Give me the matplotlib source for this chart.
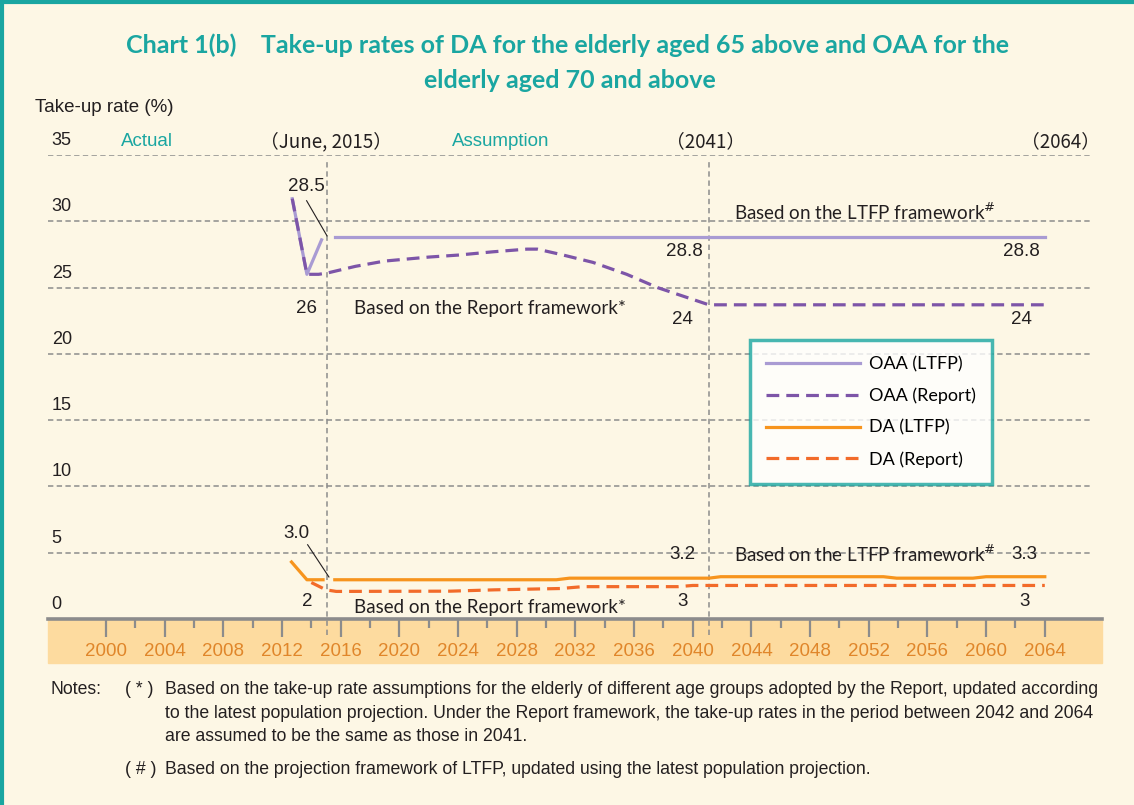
import matplotlib
matplotlib.use("Agg")
import matplotlib.pyplot as plt
import matplotlib.ticker as ticker
from matplotlib.patches import Rectangle
from matplotlib.lines import Line2D

# ---- data ----
oaa_ltfp_actual_x = [2012.7, 2013.7, 2014.7]
oaa_ltfp_actual_y = [31.7, 26.0, 28.6]
oaa_ltfp_x = [2015.6, 2064.0]
oaa_ltfp_y = [28.8, 28.8]

oaa_report_x = [2012.7, 2013.7, 2014.5, 2015.1, 2017.0, 2019.0, 2022.0, 2024.0, 2026.4,
                2028.7, 2029.4, 2031.0, 2033.2, 2035.5, 2037.6, 2041.1, 2064.0]
oaa_report_y = [31.7, 26.0, 26.0, 26.1, 26.6, 27.0, 27.3, 27.45, 27.7,
                27.9, 27.9, 27.5, 26.9, 26.0, 25.0, 23.7, 23.7]

da_ltfp_actual_x = [2012.65, 2013.7, 2014.8]
da_ltfp_actual_y = [4.3, 2.96, 2.96]
da_ltfp_x = [2015.6, 2030.7, 2031.6, 2041.1, 2041.9, 2053.0, 2053.9, 2059.1, 2060.0, 2064.0]
da_ltfp_y = [2.96, 2.96, 3.08, 3.08, 3.19, 3.19, 3.08, 3.08, 3.19, 3.19]

da_report_x = [2014.0, 2015.0, 2015.7, 2023.5, 2026.5, 2031.0, 2032.5, 2039.0, 2040.0, 2064.0]
da_report_y = [2.75, 2.2, 2.08, 2.1, 2.2, 2.3, 2.44, 2.44, 2.53, 2.53]

divider_years = [2015.07, 2041.1]
y_ticks = [0, 5, 10, 15, 20, 25, 30, 35]
x_ticks = list(range(2000, 2065, 4))

TEAL = '#1aa6a1'
CREAM = '#fdf7e5'
BAND = '#fddb9f'
GREY = '#8c8c8c'
C_OAA_LTFP = '#a99bd3'
C_OAA_REP = '#7d55a8'
C_DA_LTFP = '#f7941d'
C_DA_REP = '#f26b2a'
PAREN_FONT = ['Noto Sans CJK SC', 'Liberation Sans']

W, H = 1134, 805
fig = plt.figure(figsize=(W / 100, H / 100), dpi=100, facecolor=CREAM)


def fx(px):
    return px / W


def fy(py):
    return 1 - py / H


# frame lines (top and left)
fig.add_artist(Line2D([0, 1], [fy(2), fy(2)], color=TEAL, lw=3))
fig.add_artist(Line2D([fx(2), fx(2)], [0, 1], color=TEAL, lw=3))

# orange band under the axis
fig.add_artist(Rectangle((fx(48), fy(663)), fx(1054), 44 / H, color=BAND, zorder=0,
                         transform=fig.transFigure))

ax = fig.add_axes([fx(48), fy(619), fx(1054), 464 / H])
ax.set_facecolor('none')
ax.set_zorder(2)
ax.set_xlim(1996.05, 2067.9)
ax.set_ylim(0, 35)

for s in ['top', 'right', 'left']:
    ax.spines[s].set_visible(False)
ax.spines['bottom'].set_color(GREY)
ax.spines['bottom'].set_linewidth(2.6)

ax.xaxis.set_major_locator(ticker.FixedLocator(x_ticks))
ax.xaxis.set_minor_locator(ticker.FixedLocator(range(2000, 2065, 2)))
ax.tick_params(axis='x', which='major', direction='out', length=13, width=1.6, color=GREY,
               labelcolor='#e0862a', labelsize=13.5, pad=4)
ax.tick_params(axis='x', which='minor', direction='out', length=6.5, width=1.6, color=GREY)
ax.set_yticks([])
for lab in ax.get_xticklabels():
    lab.set_fontfamily('Liberation Sans')

# horizontal dashed grid and y labels above each line
for v in y_ticks[1:]:
    ax.axhline(v, xmax=0.99, color=GREY, lw=1.1, dashes=(3.5, 2.2), zorder=1)
for v in y_ticks:
    ax.text(1996.3, v + 0.45, str(v), ha='left', va='bottom', fontsize=13,
            family='Liberation Sans', color='#231f20')

for xv in divider_years:
    ax.plot([xv, xv], [-1.2, 34.6], color=GREY, lw=1.1, dashes=(3.5, 2.5), clip_on=False, zorder=1)

# series
lw = 2.3
ax.plot(oaa_ltfp_actual_x, oaa_ltfp_actual_y, color=C_OAA_LTFP, lw=lw, zorder=3)
ax.plot(oaa_ltfp_x, oaa_ltfp_y, color=C_OAA_LTFP, lw=lw, zorder=3, label='OAA (LTFP)')
ax.plot(oaa_report_x, oaa_report_y, color=C_OAA_REP, lw=lw, dashes=(4, 2.2), zorder=4,
        label='OAA (Report)')
ax.plot(da_ltfp_actual_x, da_ltfp_actual_y, color=C_DA_LTFP, lw=lw, zorder=3)
ax.plot(da_ltfp_x, da_ltfp_y, color=C_DA_LTFP, lw=lw, zorder=3, label='DA (LTFP)')
ax.plot(da_report_x, da_report_y, color=C_DA_REP, lw=lw, dashes=(4, 2.2), zorder=4,
        label='DA (Report)')

# value labels
num = dict(fontsize=13.5, family='Liberation Sans', color='#231f20', ha='center', va='center')
ax.text(2013.65, 32.6, '28.5', **num)
ax.plot([2013.68, 2015.07], [31.55, 28.9], color='#231f20', lw=0.8)
ax.text(2013.7, 23.4, '26', **num)
ax.text(2039.3, 22.6, '24', **num)
ax.text(2062.4, 22.6, '24', **num)
ax.text(2039.4, 27.7, '28.8', **num)
ax.text(2062.4, 27.7, '28.8', **num)
ax.text(2013.0, 6.45, '3.0', **num)
ax.plot([2013.75, 2015.2], [5.6, 3.17], color='#231f20', lw=0.8)
ax.text(2013.7, 1.3, '2', **num)
ax.text(2039.3, 1.3, '3', **num)
ax.text(2062.6, 1.3, '3', **num)
ax.text(2039.3, 4.85, '3.2', **num)
ax.text(2062.6, 4.85, '3.3', **num)

note = dict(fontsize=13.5, family='Lato', color='#231f20', ha='left', va='center')
ax.text(2016.9, 23.4, 'Based on the Report framework*', **note)
ax.text(2042.8, 30.7, r'Based on the LTFP framework$^{\#}$', **note)
ax.text(2016.9, 0.9, 'Based on the Report framework*', **note)
ax.text(2042.8, 4.85, r'Based on the LTFP framework$^{\#}$', **note)

# header row above the plot
hdr = dict(fontsize=13.5, va='center', ha='center', clip_on=False)
ax.text(2002.8, 36.0, 'Actual', color=TEAL, family='Liberation Sans', **hdr)
ax.text(2015.0, 36.0, '\uff08June, 2015\uff09', color='#231f20', family=PAREN_FONT, **hdr)
ax.text(2026.9, 36.0, 'Assumption', color=TEAL, family='Liberation Sans', **hdr)
ax.text(2040.9, 36.0, '\uff082041\uff09', color='#231f20', family=PAREN_FONT, **hdr)
ax.text(2065.1, 36.0, '\uff082064\uff09', color='#231f20', family=PAREN_FONT, **hdr)

leg = ax.legend(loc='upper left', bbox_to_anchor=(0.666, 0.601), frameon=True, fancybox=False,
                handlelength=5.2, handletextpad=0.5, labelspacing=0.85, borderpad=0.9,
                borderaxespad=0, prop={'family': 'Lato', 'size': 13})
leg.get_frame().set_edgecolor(TEAL)
leg.get_frame().set_linewidth(2.5)
leg.get_frame().set_facecolor('white')
leg.set_zorder(5)

# title and axis caption
title_kw = dict(ha='center', va='center', fontsize=18, fontweight='bold', family='Lato', color=TEAL)
fig.text(fx(567), fy(45), 'Chart 1(b)    Take-up rates of DA for the elderly aged 65 above and OAA for the',
         **title_kw)
fig.text(fx(570), fy(80), 'elderly aged 70 and above', **title_kw)
fig.text(fx(35), fy(108), 'Take-up rate (%)', ha='left', va='center', fontsize=13.5,
         family='Liberation Sans', color='#231f20')

# notes
nt = dict(fontsize=12.7, family='Liberation Sans', color='#231f20', ha='left', va='center')
fig.text(fx(50), fy(690), 'Notes:', **nt)
fig.text(fx(125), fy(690), '( * )', **nt)
fig.text(fx(165), fy(690), 'Based on the take-up rate assumptions for the elderly of different age groups '
         'adopted by the Report, updated according', **nt)
fig.text(fx(165), fy(713), 'to the latest population projection. Under the Report framework, the take-up '
         'rates in the period between 2042 and 2064', **nt)
fig.text(fx(165), fy(736), 'are assumed to be the same as those in 2041.', **nt)
fig.text(fx(125), fy(769), '( # )', **nt)
fig.text(fx(165), fy(769), 'Based on the projection framework of LTFP, updated using the latest '
         'population projection.', **nt)

fig.savefig('out.png', dpi=100, facecolor=CREAM)
